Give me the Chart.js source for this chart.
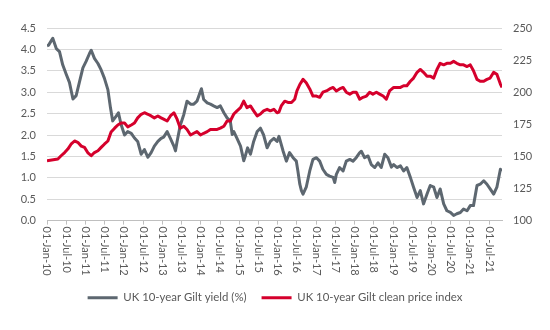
<!DOCTYPE html>
<html>
<head>
<meta charset="utf-8">
<script src="https://cdn.jsdelivr.net/npm/chart.js@4"></script>
<style>
  html, body { margin: 0; padding: 0; background: #ffffff; }
  #wrap { width: 550px; height: 330px; position: relative; }
</style>
</head>
<body>
<div id="wrap"><canvas id="c" width="550" height="330"></canvas></div>
<script>
// ---- Data (x = months since 01-Jan-2010) ----
const seriesNames = ['UK 10-year Gilt yield (%)', 'UK 10-year Gilt clean price index'];

const xTickLabels = ['01-Jan-10','01-Jul-10','01-Jan-11','01-Jul-11','01-Jan-12','01-Jul-12',
  '01-Jan-13','01-Jul-13','01-Jan-14','01-Jul-14','01-Jan-15','01-Jul-15','01-Jan-16','01-Jul-16',
  '01-Jan-17','01-Jul-17','01-Jan-18','01-Jul-18','01-Jan-19','01-Jul-19','01-Jan-20','01-Jul-20',
  '01-Jan-21','01-Jul-21'];

const yieldMonths = [0,0.5,1.8,2.9,3.9,4.9,6.0,7.0,8.1,9.1,10.1,11.2,12.2,13.3,13.8,14.8,15.9,16.9,17.9,19.0,
  19.8,20.5,21.6,22.3,23.1,24.2,25.2,26.3,27.3,28.3,29.4,30.4,31.5,32.5,33.5,34.6,35.6,36.4,37.5,38.5,
  39.6,40.1,40.6,41.6,42.7,43.7,44.8,45.8,46.8,47.9,48.2,48.9,50.0,51.0,52.0,53.1,54.1,55.2,56.2,57.2,
  57.8,58.3,59.3,60.4,61.4,61.9,62.6,63.5,64.5,65.6,66.6,67.6,68.7,69.7,70.8,71.8,72.4,73.1,73.7,74.7,
  75.7,76.8,77.8,78.3,78.9,79.4,79.9,80.9,82.0,83.0,84.1,85.1,86.1,87.2,88.2,89.3,89.8,90.3,91.3,92.4,
  93.4,94.5,95.5,96.5,97.6,98.1,99.1,100.2,101.2,102.3,103.3,104.3,105.4,106.4,107.5,108.2,109.2,110.3,111.3,112.3,
  113.4,114.4,115.5,116.5,117.5,118.6,119.6,120.7,121.7,122.7,123.8,124.8,125.9,126.9,127.9,129.0,130.0,131.1,132.1,133.1,
  134.2,135.2,136.3,137.3,138.3,139.4,140.4,141.5,142.0];
const yieldValues = [4.08,4.10,4.26,4.02,3.95,3.64,3.42,3.23,2.84,2.92,3.23,3.57,3.72,3.91,3.98,3.79,3.67,3.52,3.33,3.06,
  2.64,2.33,2.44,2.52,2.25,2.00,2.08,2.04,1.93,1.85,1.55,1.66,1.48,1.59,1.74,1.85,1.92,1.95,2.08,1.92,
  1.74,1.63,1.85,2.23,2.48,2.79,2.72,2.72,2.79,3.02,3.08,2.83,2.75,2.72,2.68,2.64,2.68,2.52,2.40,2.33,
  2.01,2.08,1.92,1.74,1.40,1.51,1.70,1.55,1.85,2.08,2.16,2.00,1.70,1.85,1.92,1.85,1.97,1.78,1.62,1.39,
  1.59,1.47,1.39,1.16,0.85,0.70,0.62,0.78,1.16,1.43,1.47,1.39,1.20,1.08,1.04,1.01,0.89,1.08,1.24,1.16,
  1.39,1.43,1.39,1.47,1.59,1.62,1.47,1.51,1.31,1.24,1.35,1.24,1.55,1.47,1.25,1.31,1.24,1.28,1.16,1.24,
  1.01,0.78,0.54,0.70,0.39,0.62,0.82,0.78,0.54,0.74,0.39,0.23,0.19,0.12,0.16,0.19,0.27,0.23,0.35,0.35,
  0.82,0.85,0.93,0.85,0.74,0.62,0.78,1.20,1.16];

const priceMonths = [0,3.4,4.4,5.5,6.5,7.5,8.6,9.6,10.7,11.7,12.7,13.8,14.8,15.9,16.9,17.9,19.0,20.0,21.1,22.1,
  23.1,24.2,25.2,26.3,27.3,28.3,29.4,30.4,31.5,32.5,33.5,34.6,35.6,36.4,37.5,38.5,39.6,40.6,41.6,42.7,
  43.7,44.8,45.8,46.8,47.9,48.9,50.0,51.0,52.0,53.1,54.1,55.2,56.2,57.2,58.3,59.3,60.4,61.4,62.4,63.5,
  64.5,65.6,66.6,67.6,68.7,69.7,70.8,71.8,72.4,73.1,74.2,75.2,76.3,77.3,78.0,78.9,79.9,80.9,82.0,83.0,
  84.1,85.1,86.1,87.2,88.2,89.3,90.3,91.3,92.4,93.4,94.5,95.5,96.5,97.6,98.6,99.7,100.7,101.7,102.8,103.8,
  104.9,105.9,106.9,108.2,109.2,110.3,111.3,112.3,113.4,114.4,115.5,116.5,117.5,118.6,119.6,120.7,121.7,122.7,123.8,124.8,
  125.9,126.9,127.9,129.0,130.0,131.1,132.1,133.1,134.2,135.2,136.3,137.3,138.3,139.4,140.4,141.5,142.0];
const priceValues = [146.5,148.0,150.5,153.0,155.7,159.5,162.0,161.0,158.0,157.0,153.0,150.5,153.0,154.4,157.0,159.5,162.0,169.0,172.0,174.5,
  176.0,176.0,173.0,174.5,176.0,180.0,182.8,184.0,182.8,181.5,180.0,181.5,180.0,179.0,177.6,181.5,184.0,179.0,172.0,173.5,
  171.0,166.7,168.0,169.3,166.7,168.0,169.3,171.0,171.0,171.0,172.0,173.5,177.6,177.6,183.0,185.5,188.0,193.0,188.0,189.3,
  185.5,181.5,183.0,185.5,186.7,185.5,186.7,184.0,184.5,189.3,193.0,192.0,192.0,194.5,201.0,206.0,210.0,207.3,202.5,197.0,
  197.0,196.0,200.0,201.0,202.5,203.7,201.0,202.5,203.7,200.0,198.5,200.0,200.0,194.5,196.0,197.0,200.0,198.5,200.0,198.5,
  197.0,194.5,201.0,203.7,203.7,203.7,205.0,205.0,208.5,211.0,215.5,217.7,215.5,212.5,212.5,211.0,217.7,222.5,221.3,222.5,
  222.5,224.0,222.5,221.3,221.3,220.0,221.3,216.7,210.0,208.5,208.5,210.0,211.0,215.5,214.0,206.3,203.7];

const yieldTicks = [0, 0.5, 1, 1.5, 2, 2.5, 3, 3.5, 4, 4.5];
const priceTicks = [100, 125, 150, 175, 200, 225, 250];

const grayColor = '#5d6770';
const redColor = '#d5002c';
const textColor = '#595959';
const fontFamily = 'Lato, "Liberation Sans", sans-serif';

function toPoints(xs, ys) { return xs.map((x, i) => ({ x: x, y: ys[i] })); }

// Draw the x tick labels rotated clockwise (reading top to bottom), positioned by the x scale.
const clockwiseXLabels = {
  id: 'clockwiseXLabels',
  afterDraw(chart) {
    const scale = chart.scales.x;
    const ctx = chart.ctx;
    ctx.save();
    ctx.font = '11px ' + fontFamily;
    ctx.fillStyle = textColor;
    ctx.textAlign = 'left';
    ctx.textBaseline = 'middle';
    scale.ticks.forEach((t, i) => {
      const px = scale.getPixelForTick(i);
      const label = xTickLabels[Math.round(t.value / 6)];
      if (label === undefined) return;
      ctx.save();
      ctx.translate(px, scale.top + 6);
      ctx.rotate(Math.PI / 2);
      ctx.fillText(label, 0, 0);
      ctx.restore();
    });
    ctx.restore();
  }
};

new Chart(document.getElementById('c'), {
  type: 'line',
  data: {
    datasets: [
      {
        label: seriesNames[0],
        data: toPoints(yieldMonths, yieldValues),
        yAxisID: 'y',
        borderColor: grayColor,
        backgroundColor: grayColor,
        borderWidth: 3,
        pointRadius: 0,
        tension: 0,
        borderJoinStyle: 'round',
        order: 1
      },
      {
        label: seriesNames[1],
        data: toPoints(priceMonths, priceValues),
        yAxisID: 'y1',
        borderColor: redColor,
        backgroundColor: redColor,
        borderWidth: 3,
        pointRadius: 0,
        tension: 0,
        borderJoinStyle: 'round',
        order: 0
      }
    ]
  },
  options: {
    responsive: false,
    animation: false,
    devicePixelRatio: 1,
    layout: { padding: { top: 28, left: 0, right: 0, bottom: 16.5 } },
    plugins: {
      legend: {
        position: 'bottom',
        labels: {
          usePointStyle: true,
          pointStyle: 'line',
          pointStyleWidth: 30,
          padding: 15,
          color: textColor,
          font: { family: fontFamily, size: 11.4 },
          sort: (a, b) => a.datasetIndex - b.datasetIndex
        }
      },
      tooltip: { enabled: false }
    },
    scales: {
      x: {
        type: 'linear',
        min: 0,
        max: 142,
        afterBuildTicks: (s) => { s.ticks = xTickLabels.map((_, i) => ({ value: i * 6 })); },
        afterFit: (s) => { s.height = 56.5; },
        ticks: { display: false },
        grid: { display: true, drawOnChartArea: false, drawTicks: true, tickLength: 4, color: '#bfbfbf' },
        border: { display: true, color: '#bfbfbf' }
      },
      y: {
        position: 'left',
        min: 0,
        max: 4.5,
        afterBuildTicks: (s) => { s.ticks = yieldTicks.map(v => ({ value: v })); },
        afterFit: (s) => { s.width = 47; },
        ticks: {
          padding: 11,
          color: textColor,
          font: { family: fontFamily, size: 11 },
          callback: (v) => Number(v).toFixed(1)
        },
        grid: { color: '#d9d9d9', drawTicks: false },
        border: { display: false }
      },
      y1: {
        position: 'right',
        min: 100,
        max: 250,
        afterBuildTicks: (s) => { s.ticks = priceTicks.map(v => ({ value: v })); },
        afterFit: (s) => { s.width = 48; },
        ticks: {
          padding: 11,
          color: textColor,
          font: { family: fontFamily, size: 11 },
          callback: (v) => String(v)
        },
        grid: { display: false, drawTicks: false },
        border: { display: false }
      }
    }
  },
  plugins: [clockwiseXLabels]
});
</script>
</body>
</html>
